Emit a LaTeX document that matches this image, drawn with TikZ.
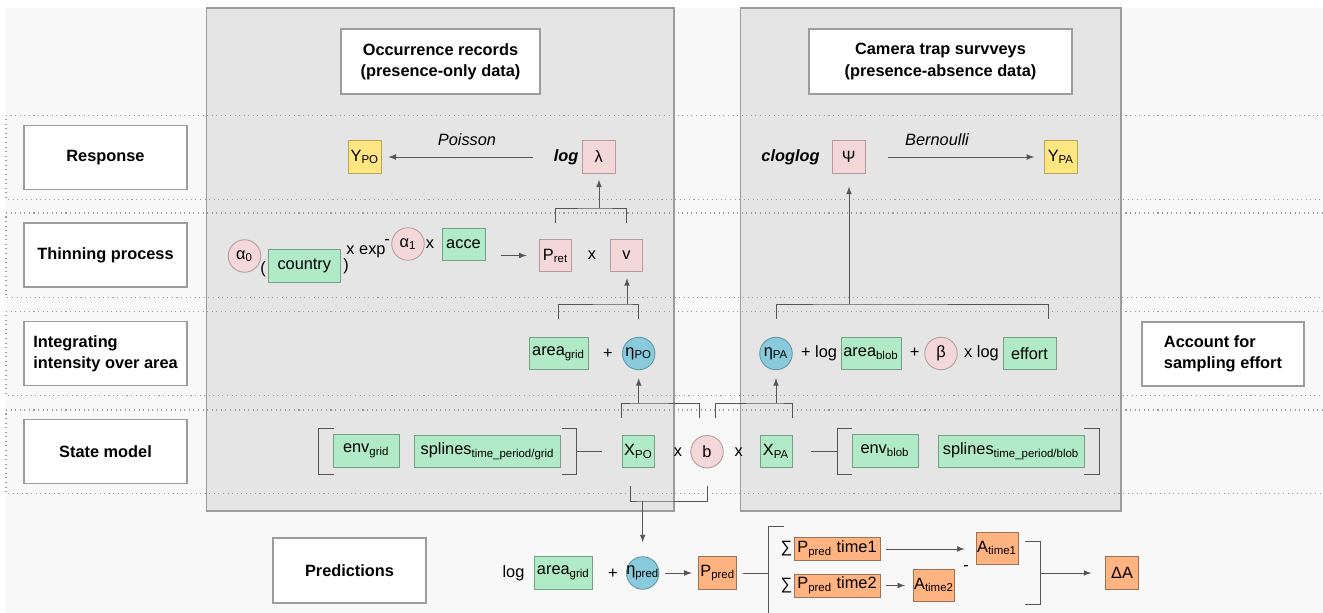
\documentclass[tikz,border=0pt]{standalone}
\usepackage{fontspec}
\setmainfont{Liberation Sans}
\usetikzlibrary{arrows}

\definecolor{bgfill}{HTML}{F8F8F8}
\definecolor{panelfill}{HTML}{E5E5E5}
\definecolor{panelline}{HTML}{9C9C9C}
\definecolor{dotline}{HTML}{9A9A9A}
\definecolor{grnfill}{HTML}{B0EAC6}
\definecolor{grnline}{HTML}{74A184}
\definecolor{pnkfill}{HTML}{F4D8D9}
\definecolor{pnkline}{HTML}{B49C9D}
\definecolor{blufill}{HTML}{8ACADD}
\definecolor{bluline}{HTML}{5F97A7}
\definecolor{orgfill}{HTML}{FFB381}
\definecolor{orgline}{HTML}{9B7256}
\definecolor{ylwfill}{HTML}{FFE680}
\definecolor{ylwline}{HTML}{B5A45C}
\definecolor{conn}{HTML}{555555}

\newcommand{\zw}[1]{\makebox[0pt]{#1}} % keeps the circles small

\tikzset{
  lbl/.style={draw=panelline, fill=white, line width=0.6pt, inner sep=0pt,
    minimum width=32.6mm, minimum height=12.8mm, align=left,
    font=\fontsize{9.3}{12}\selectfont\bfseries},
  cbox/.style={rectangle, inner sep=0pt, minimum width=6.5mm, minimum height=6.5mm,
    line width=0.5pt, font=\fontsize{9.3}{11}\selectfont},
  grn/.style={cbox, draw=grnline, fill=grnfill},
  pnk/.style={cbox, draw=pnkline, fill=pnkfill},
  ylw/.style={cbox, draw=ylwline, fill=ylwfill},
  org/.style={cbox, draw=orgline, fill=orgfill},
  pnkc/.style={pnk, circle, minimum size=6.5mm},
  bluc/.style={cbox, circle, minimum size=6.5mm, draw=bluline, fill=blufill},
  txt/.style={inner sep=0pt, font=\fontsize{9.3}{11}\selectfont},
  itx/.style={txt, font=\fontsize{9.3}{11}\selectfont\itshape},
  bix/.style={txt, font=\fontsize{9.3}{11}\selectfont\bfseries\itshape},
  ln/.style={draw=conn, line width=0.5pt},
  arr/.style={ln, -latex},
  band/.style={dotline, dotted, line width=0.6pt}
}

\begin{document}
\begin{tikzpicture}[x=0.2mm, y=-0.2mm]
\useasboundingbox (0,0) rectangle (1323,613);
\fill[bgfill] (6,8) rectangle (1323,613); % page
\filldraw[fill=panelfill, draw=panelline, line width=0.7pt] (206.5,8) rectangle (674,511); % presence-only panel
\filldraw[fill=panelfill, draw=panelline, line width=0.7pt] (740.5,8) rectangle (1121,511); % presence-absence panel
\foreach \ya/\yb in {115.7/199.3, 213/297.3, 311.7/395.7, 410/493.5}
  \draw[band] (1323,\ya) -- (6,\ya) -- (6,\yb) -- (1323,\yb); % dotted bands

% headings
\node[lbl] (Resp) at (105.5,157.5) {Response};
\node[lbl] (Thin) at (105.5,255) {Thinning process};
\node[lbl] (Integ) at (105.5,353.5) {Integrating\\intensity over area};
\node[lbl] (State) at (105.5,451.5) {State model};
\node[lbl, minimum width=30.6mm, minimum height=13mm] (Pred) at (349.5,570.5) {Predictions};
\node[lbl, minimum width=32.4mm] (Acct) at (1223,354) {Account for\\sampling effort};
\node[lbl, align=center, minimum width=39.8mm, minimum height=13mm] (Occ) at (440.5,61.5) {Occurrence records\\(presence-only data)};
\node[lbl, align=center, minimum width=52.6mm, minimum height=13mm] (Cam) at (940.5,61.5) {Camera trap survveys\\(presence-absence data)};

% response
\node[ylw] (Ypo) at (364.8,157) {Y\textsubscript{PO}};
\node[itx] (Pois) at (467,140) {Poisson};
\node[bix] (LogL) at (566,157) {log};
\node[pnk] (Lam) at (598.8,157) {λ};
\node[bix] (Clog) at (790.5,157) {cloglog};
\node[pnk] (Psi) at (848.8,157) {Ψ};
\node[itx] (Bern) at (937,140) {Bernoulli};
\node[ylw] (Ypa) at (1060.9,157) {Y\textsubscript{PA}};
\draw[arr, shorten <=4mm, shorten >=1.4mm] (LogL.west) -- (Ypo.east);
\draw[arr, shorten <=4.6mm, shorten >=2mm] (Psi.east) -- (Ypa.west);

% thinning
\node[pnkc] (A0) at (244.5,256) {\zw{α\textsubscript{0}}};
\node[txt] (Lp) at (263,269) {(};
\node[grn, minimum width=14.3mm] (Country) at (304.3,266) {country};
\node[txt] (Rp) at (346,266) {)};
\node[txt] (Xexp) at (366,252) {x exp};
\node[txt] (Mn) at (387,242) {-};
\node[pnkc] (A1) at (408,244) {\zw{α\textsubscript{1}}};
\node[txt] (X1) at (430,244) {x};
\node[grn, minimum width=8.6mm] (Acce) at (463.5,244.5) {acce};
\coordinate (T0) at (501,255.5);
\node[pnk, minimum width=6.4mm] (Pret) at (555.5,255.5) {P\textsubscript{ret}};
\node[txt] (X2) at (592,255.5) {x};
\node[pnk] (V) at (626.5,255.5) {v};
\draw[arr, shorten >=2.5mm] (T0) -- (Pret.west);
\coordinate (J1) at (599,208);
\draw[ln, shorten <=3.2mm, shorten >=3.2mm] (Pret.north) |- (J1) -| (V.north);
\draw[arr, shorten >=1.2mm] (J1) -- (J1 |- Lam.south);

% integrating
\node[grn, minimum width=11.8mm] (AreaG) at (558.5,353.5) {area\textsubscript{grid}};
\node[txt] (Pl1) at (608,354) {+};
\node[bluc] (EtaPO) at (638.7,353.5) {\zw{η\textsubscript{PO}}};
\node[bluc] (EtaPA) at (776,353.5) {\zw{η\textsubscript{PA}}};
\node[txt] (Pl2) at (819,353) {+ log};
\node[grn, minimum width=12mm] (AreaB) at (871,353.5) {area\textsubscript{blob}};
\node[txt] (Pl3) at (914.6,353) {+};
\node[pnkc] (Beta) at (941,353.5) {β};
\node[txt] (X3) at (981.5,353) {x log};
\node[grn, minimum width=10.6mm] (Effort) at (1029.5,353.5) {effort};
\coordinate (J2) at (627,304);
\coordinate (J3) at (849,304);
\draw[ln, shorten <=3.6mm, shorten >=3.6mm] (AreaG.north) |- (J2) -| (EtaPO.north);
\draw[arr, shorten >=1.2mm] (J2) -- (J2 |- V.south);
\draw[ln, shorten <=3.6mm, shorten >=3.6mm] (EtaPA.north) |- (J3) -| ([xshift=3.8mm]Effort.north);
\draw[arr, shorten >=2.6mm] (J3) -- (J3 |- Psi.south);

% state model
\draw[ln] (334,428) -| (318,474) -- (334,474); % brackets
\draw[ln] (562,428) -| (576.6,474) -- (562,474);
\node[grn, minimum width=13.3mm] (EnvG) at (366.2,451) {env\textsubscript{grid}};
\node[grn, minimum width=29.2mm] (SplG) at (487.6,451.5) {splines\textsubscript{time\_period/grid}};
\coordinate (BrG) at (576.6,451.5);
\node[grn] (Xpo) at (638.4,451.5) {X\textsubscript{PO}};
\node[txt] (X4) at (678,452) {x};
\node[pnkc] (B) at (707,451.7) {b};
\node[txt] (X5) at (738.7,452) {x};
\node[grn, minimum width=6.4mm] (Xpa) at (776,451.5) {X\textsubscript{PA}};
\coordinate (BrB) at (837,451.5);
\draw[ln] (852,428) -| (837,474) -- (852,474);
\draw[ln] (1084,428) -| (1099,474) -- (1084,474);
\node[grn, minimum width=13.2mm] (EnvB) at (885,451) {env\textsubscript{blob}};
\node[grn, minimum width=29.2mm] (SplB) at (1011,451.5) {splines\textsubscript{time\_period/blob}};
\draw[ln, shorten >=4mm] (BrG) -- (Xpo.west);
\draw[ln, shorten <=3.7mm] (Xpa.east) -- (BrB);
\coordinate (J4) at (638.7,403);
\coordinate (J5) at (776,403);
\coordinate (J6) at (642.7,501);
\draw[ln, shorten <=3.4mm, shorten >=3.4mm] (Xpo.north west) |- (J4) -| ([xshift=-1.6mm]B.north);
\draw[arr, shorten >=1.6mm] (J4) -- (J4 |- EtaPO.south);
\draw[ln, shorten <=3.4mm, shorten >=3.4mm] ([xshift=1.7mm]B.north) |- (J5) -| (Xpa.north east);
\draw[arr, shorten >=1.6mm] (J5) -- (J5 |- EtaPA.south);
\draw[ln, shorten <=3.6mm, shorten >=3.6mm] ([xshift=-1.5mm]Xpo.south) |- (J6) -| (B.south);

% predictions
\node[txt] (LogP) at (513.5,573) {log};
\node[grn, minimum width=11.5mm] (AreaP) at (563.3,573) {area\textsubscript{grid}};
\node[txt] (Pl4) at (613,574) {+};
\node[bluc] (EtaPr) at (642.7,573) {\zw{η\textsubscript{pred}}};
\draw[arr, shorten >=2.8mm] (J6) -- (J6 |- EtaPr.north);
\node[org, minimum width=7.6mm] (Ppred) at (717.7,573) {P\textsubscript{pred}};
\draw[arr, shorten <=1.2mm, shorten >=1.3mm] (EtaPr) -- (Ppred);
\draw[ln] (784,526.5) -| (768,613); % bracket
\coordinate (BrP) at (768,573);
\draw[ln, shorten <=1.2mm] (Ppred.east) -- (BrP);
\node[txt] (S1) at (786.5,549) {∑};
\node[org, minimum width=17.2mm, minimum height=4.6mm] (Pt1) at (837,549) {P\textsubscript{pred} time1};
\node[org, minimum width=8.4mm, minimum height=6.4mm] (At1) at (997,548) {A\textsubscript{time1}};
\node[txt] (S2) at (786.5,585.5) {∑};
\node[org, minimum width=17.2mm, minimum height=4.6mm] (Pt2) at (837,585.5) {P\textsubscript{pred} time2};
\node[org, minimum width=8.2mm, minimum height=6.4mm] (At2) at (934,585) {A\textsubscript{time2}};
\node[txt] (Mn2) at (966,568) {-};
\draw[arr, shorten <=1.2mm, shorten >=2.2mm] (Pt1.east) -- (Pt1.east -| At1.west);
\draw[arr, shorten <=1.2mm, shorten >=1.6mm] (Pt2.east) -- (Pt2.east -| At2.west);
\draw[ln] (1025,541.7) -| (1040,604) -- (1025,604);
\coordinate (BrA) at (1040,573);
\node[org] (DA) at (1122,573) {ΔA};
\draw[arr, shorten >=2.8mm] (BrA) -- (DA.west);
\end{tikzpicture}
\end{document}
